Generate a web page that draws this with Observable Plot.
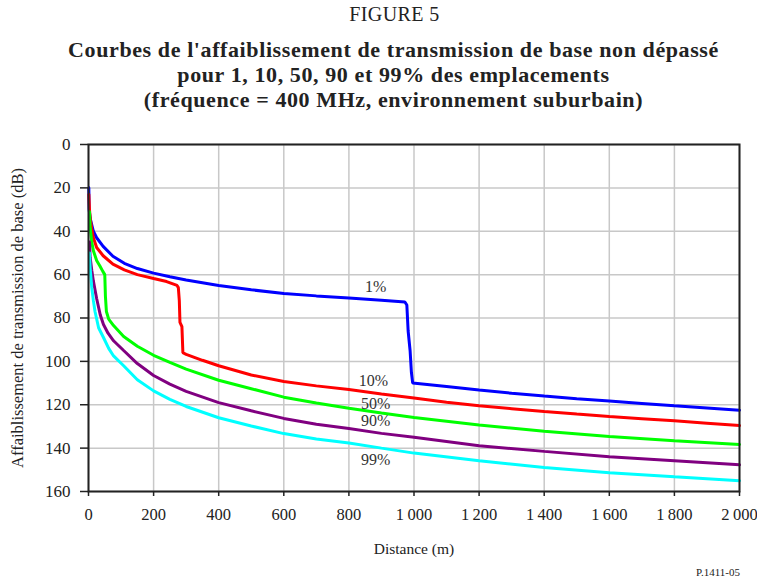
<!DOCTYPE html>
<html>
<head>
<meta charset="utf-8">
<script src="https://cdn.jsdelivr.net/npm/d3@7"></script>
<script src="https://cdn.jsdelivr.net/npm/@observablehq/plot@0.6"></script>
<style>
  html, body { margin: 0; padding: 0; background: #fff; }
  #page { position: relative; width: 757px; height: 580px; overflow: hidden; font-family: "Liberation Serif", "Times New Roman", serif; color: #222; }
  .fig { position: absolute; left: 16px; width: 757px; top: 2px; text-align: center; font-size: 20px; letter-spacing: 0.4px; line-height: 24px; white-space: nowrap; }
  .ttl { position: absolute; left: 15px; width: 757px; top: 37px; text-align: center; font-size: 22px; letter-spacing: 0.6px; font-weight: bold; line-height: 25px; white-space: nowrap; }
  #chart { position: absolute; left: 0; top: 130px; }
  #chart svg { overflow: visible; }
  .cap { position: absolute; right: 17px; top: 565px; font-size: 11px; line-height: 14px; }
</style>
</head>
<body>
<div id="page">
  <div class="fig">FIGURE 5</div>
  <div class="ttl">Courbes de l'affaiblissement de transmission de base non dépassé<br>pour 1, 10, 50, 90 et 99% des emplacements<br>(fréquence = 400 MHz, environnement suburbain)</div>
  <div id="chart"></div>
  <div class="cap">P.1411-05</div>
</div>
<script>
// ---- data ----
const xTicks = [0, 200, 400, 600, 800, 1000, 1200, 1400, 1600, 1800, 2000];
const yTicks = [0, 20, 40, 60, 80, 100, 120, 140, 160];

const seriesNames = ["1%", "10%", "50%", "90%", "99%"];
const seriesColors = ["#0000ff", "#ff0000", "#00ff00", "#800080", "#00ffff"];

const dist1 = [1, 2, 5, 10, 15, 25, 45, 75, 110, 150, 200, 250, 300, 400, 500, 600, 700, 800, 900, 972, 978, 982, 988, 992, 996, 1100, 1200, 1300, 1400, 1500, 1600, 1700, 1800, 1900, 2000];
const loss1 = [20, 30, 34, 37, 40, 43, 47, 51.5, 54.8, 57.2, 59.3, 61, 62.5, 65, 67, 68.7, 69.8, 70.8, 71.8, 72.6, 74, 86, 95, 105, 110, 111.6, 113.2, 114.7, 116, 117.2, 118.3, 119.4, 120.5, 121.5, 122.5];

const dist10 = [1, 3, 6, 10, 15, 25, 45, 75, 110, 150, 200, 240, 272, 276, 279, 281, 287, 290, 300, 350, 400, 500, 600, 700, 800, 900, 1000, 1100, 1200, 1300, 1400, 1500, 1600, 1700, 1800, 1900, 2000];
const loss10 = [23, 30, 35, 39, 43, 47.5, 51.3, 55.2, 57.8, 60, 61.8, 63.2, 65, 66, 72, 82, 84, 96, 96.8, 99.5, 102, 106.3, 109.3, 111.3, 113, 115, 116.9, 118.8, 120.5, 121.8, 123.1, 124.3, 125.4, 126.4, 127.4, 128.5, 129.6];

const dist50 = [3, 5, 10, 15, 25, 35, 44, 50, 52, 55, 62, 77, 108, 150, 200, 250, 300, 400, 500, 600, 700, 800, 900, 1000, 1200, 1400, 1600, 1800, 2000];
const loss50 = [31, 38, 45, 49, 53.5, 56, 58.5, 60, 70, 77, 80.5, 83.5, 88.5, 93, 97.2, 100.5, 103.6, 108.7, 112.6, 116.5, 119.2, 121.6, 123.8, 125.9, 129.3, 132.2, 134.6, 136.6, 138.3];

const dist90 = [3, 5, 10, 15, 25, 36, 46, 60, 77, 108, 150, 200, 250, 300, 400, 500, 600, 700, 800, 900, 1000, 1200, 1400, 1600, 1800, 2000];
const loss90 = [45, 52, 58, 63, 71, 78.5, 83, 87, 90.5, 95, 101, 106.5, 110.5, 113.8, 119, 122.8, 126.3, 129, 131, 133.2, 135, 138.9, 141.5, 144, 145.8, 147.7];

const dist99 = [3, 5, 10, 15, 20, 31, 46, 62, 77, 108, 150, 200, 250, 300, 400, 500, 600, 700, 800, 900, 1000, 1200, 1400, 1600, 1800, 2000];
const loss99 = [50, 57, 66, 72, 77, 84.5, 89, 94, 97.5, 102, 108.5, 113.6, 117.5, 120.8, 126, 129.8, 133.3, 135.8, 137.6, 140, 142.3, 145.8, 148.9, 151.3, 153.2, 155];

const labelDist = [882, 875, 882, 882, 882];
const labelLoss = [65.8, 108.8, 119.8, 127.5, 145.5];

// ---- build table ----
const dists = [dist1, dist10, dist50, dist90, dist99];
const losses = [loss1, loss10, loss50, loss90, loss99];
const rows = seriesNames.flatMap((name, k) => dists[k].map((d, i) => ({series: name, d, v: losses[k][i]})));
const labels = seriesNames.map((name, k) => ({name, d: labelDist[k], v: labelLoss[k]}));

const fmtX = d => d >= 1000 ? `${Math.floor(d / 1000)}\u2009${String(d % 1000).padStart(3, "0")}` : `${d}`;

const chart = Plot.plot({
  width: 757,
  height: 430,
  marginTop: 14,
  marginBottom: 69,
  marginLeft: 88,
  marginRight: 18,
  style: {fontFamily: "'Liberation Serif', 'Times New Roman', serif", fontSize: "17px", color: "#222", background: "transparent"},
  x: {domain: [0, 2000]},
  y: {domain: [0, 160], reverse: true},
  marks: [
    Plot.gridX(xTicks, {stroke: "#c8c8c8", strokeOpacity: 1, strokeWidth: 1.5}),
    Plot.gridY(yTicks, {stroke: "#c8c8c8", strokeOpacity: 1, strokeWidth: 1.5}),
    ...seriesNames.map((name, k) => Plot.line(rows.filter(r => r.series === name), {x: "d", y: "v", stroke: seriesColors[k], strokeWidth: 3, strokeLinejoin: "miter"})),
    Plot.frame({stroke: "#222", strokeWidth: 2}),
    Plot.axisY(yTicks, {tickSize: 8, tickPadding: 10, fontSize: 17, label: null, stroke: "#222", strokeWidth: 1.5}),
    Plot.axisX(xTicks, {tickSize: 5, tickPadding: 12, fontSize: 16.5, label: null, tickFormat: fmtX, stroke: "#222", strokeWidth: 1.5}),
    Plot.text(labels, {x: "d", y: "v", text: "name", fontSize: 16, fill: "#333"}),
    Plot.text(["Affaiblissement de transmission de base (dB)"], {frameAnchor: "left", textAnchor: "middle", lineAnchor: "middle", rotate: -90, dx: -71, fontSize: 16.5, fill: "#222"}),
    Plot.text(["Distance (m)"], {frameAnchor: "bottom", textAnchor: "middle", lineAnchor: "middle", dy: 58, fontSize: 15.5, fill: "#222"})
  ]
});
document.getElementById("chart").appendChild(chart);
</script>
</body>
</html>
